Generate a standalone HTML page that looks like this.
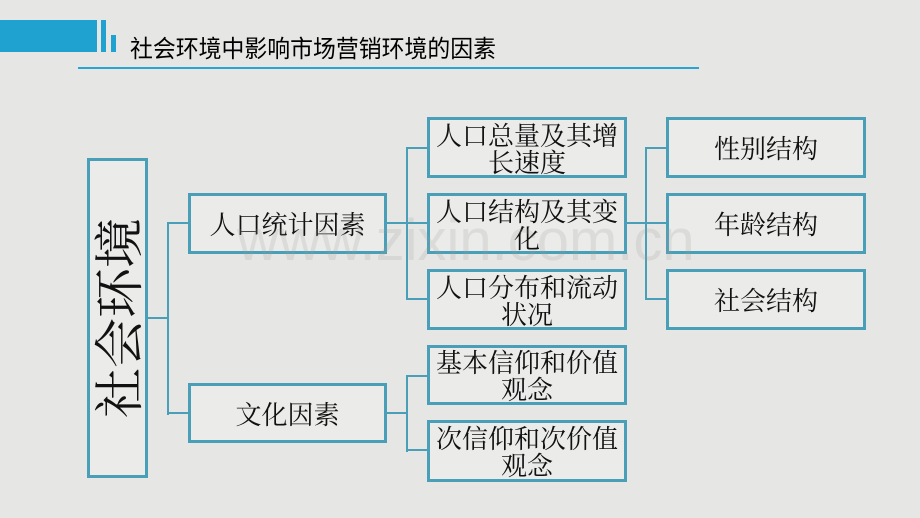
<!DOCTYPE html>
<html>
<head>
<meta charset="utf-8">
<style>
html,body{margin:0;padding:0;}
body{width:920px;height:518px;background:#e6e6e5;position:relative;overflow:hidden;}
.abs{position:absolute;}
.box{position:absolute;box-sizing:border-box;border:3px solid #4a9fb8;background:#ebebea;
  font-family:"Noto Serif CJK SC","Noto Serif CJK","Noto Serif SC","Source Han Serif SC","Noto Serif CJK JP","AR PL UMing CN","Liberation Serif",serif;font-size:26px;line-height:27px;color:#111;
  display:flex;align-items:center;justify-content:center;text-align:center;}
.h{position:absolute;height:2px;background:#4a9fb8;}
.v{position:absolute;width:2px;background:#4a9fb8;}
.vt{font-family:"Noto Serif CJK SC","Noto Serif CJK","Noto Serif SC","Source Han Serif SC","Noto Serif CJK JP","AR PL UMing CN","Liberation Serif",serif;}
</style>
</head>
<body>
<!-- header decoration -->
<div class="abs" style="left:0;top:20px;width:97px;height:32px;background:#1fa2cf;"></div>
<div class="abs" style="left:101px;top:20px;width:5px;height:32px;background:#1fa2cf;"></div>
<div class="abs" style="left:111px;top:35px;width:5px;height:17px;background:#1fa2cf;"></div>
<svg class="abs" style="left:0;top:0;" width="920" height="80">
  <text x="130" y="57" font-family="Noto Sans CJK SC, Liberation Sans, sans-serif" font-size="24" fill="#000" textLength="366" lengthAdjust="spacingAndGlyphs">社会环境中影响市场营销环境的因素</text>
</svg>
<div class="abs" style="left:78px;top:67px;width:621px;height:2px;background:#2aa5d3;"></div>

<!-- big box -->
<div class="box" style="left:87px;top:158px;width:61px;height:320px;"></div>
<div class="abs" style="left:116px;top:318px;width:0;height:0;">
  <div class="vt" style="position:absolute;left:-110px;top:-28px;width:220px;height:56px;transform:rotate(-90deg);font-size:50px;line-height:56px;text-align:center;color:#111;white-space:nowrap;">社会环境</div>
</div>

<!-- connectors level 1 -->
<div class="h" style="left:148px;top:317px;width:21px;"></div>
<div class="v" style="left:167px;top:222px;height:193px;"></div>
<div class="h" style="left:167px;top:222px;width:21px;"></div>
<div class="h" style="left:167px;top:412px;width:21px;"></div>

<!-- level 1 boxes -->
<div class="box" style="left:188px;top:193px;width:199px;height:61px;">人口统计因素</div>
<div class="box" style="left:188px;top:383px;width:199px;height:60px;">文化因素</div>

<!-- connectors level 2 upper -->
<div class="h" style="left:387px;top:222px;width:21px;"></div>
<div class="v" style="left:406px;top:147px;height:153px;"></div>
<div class="h" style="left:406px;top:147px;width:21px;"></div>
<div class="h" style="left:406px;top:222px;width:21px;"></div>
<div class="h" style="left:406px;top:298px;width:21px;"></div>

<!-- connectors level 2 lower -->
<div class="h" style="left:387px;top:412px;width:21px;"></div>
<div class="v" style="left:406px;top:375px;height:77px;"></div>
<div class="h" style="left:406px;top:375px;width:21px;"></div>
<div class="h" style="left:406px;top:449px;width:21px;"></div>

<!-- level 2 boxes -->
<div class="box" style="left:427px;top:117px;width:200px;height:61px;">人口总量及其增<br>长速度</div>
<div class="box" style="left:427px;top:193px;width:200px;height:61px;">人口结构及其变<br>化</div>
<div class="box" style="left:427px;top:269px;width:200px;height:61px;">人口分布和流动<br>状况</div>
<div class="box" style="left:427px;top:345px;width:200px;height:60px;">基本信仰和价值<br>观念</div>
<div class="box" style="left:427px;top:420px;width:200px;height:62px;">次信仰和次价值<br>观念</div>

<!-- connectors level 3 -->
<div class="h" style="left:627px;top:222px;width:20px;"></div>
<div class="v" style="left:645px;top:147px;height:153px;"></div>
<div class="h" style="left:645px;top:147px;width:21px;"></div>
<div class="h" style="left:645px;top:222px;width:21px;"></div>
<div class="h" style="left:645px;top:298px;width:21px;"></div>

<!-- level 3 boxes -->
<div class="box" style="left:666px;top:117px;width:200px;height:61px;">性别结构</div>
<div class="box" style="left:666px;top:193px;width:200px;height:61px;">年龄结构</div>
<div class="box" style="left:666px;top:269px;width:200px;height:61px;">社会结构</div>

<!-- watermark -->
<svg class="abs" style="left:0;top:0;pointer-events:none;" width="920" height="518">
  <text x="237" y="260" font-family="Liberation Sans, sans-serif" font-size="58" fill="#9a9a9a" fill-opacity="0.2">www.zixin.com.cn</text>
</svg>
</body>
</html>
